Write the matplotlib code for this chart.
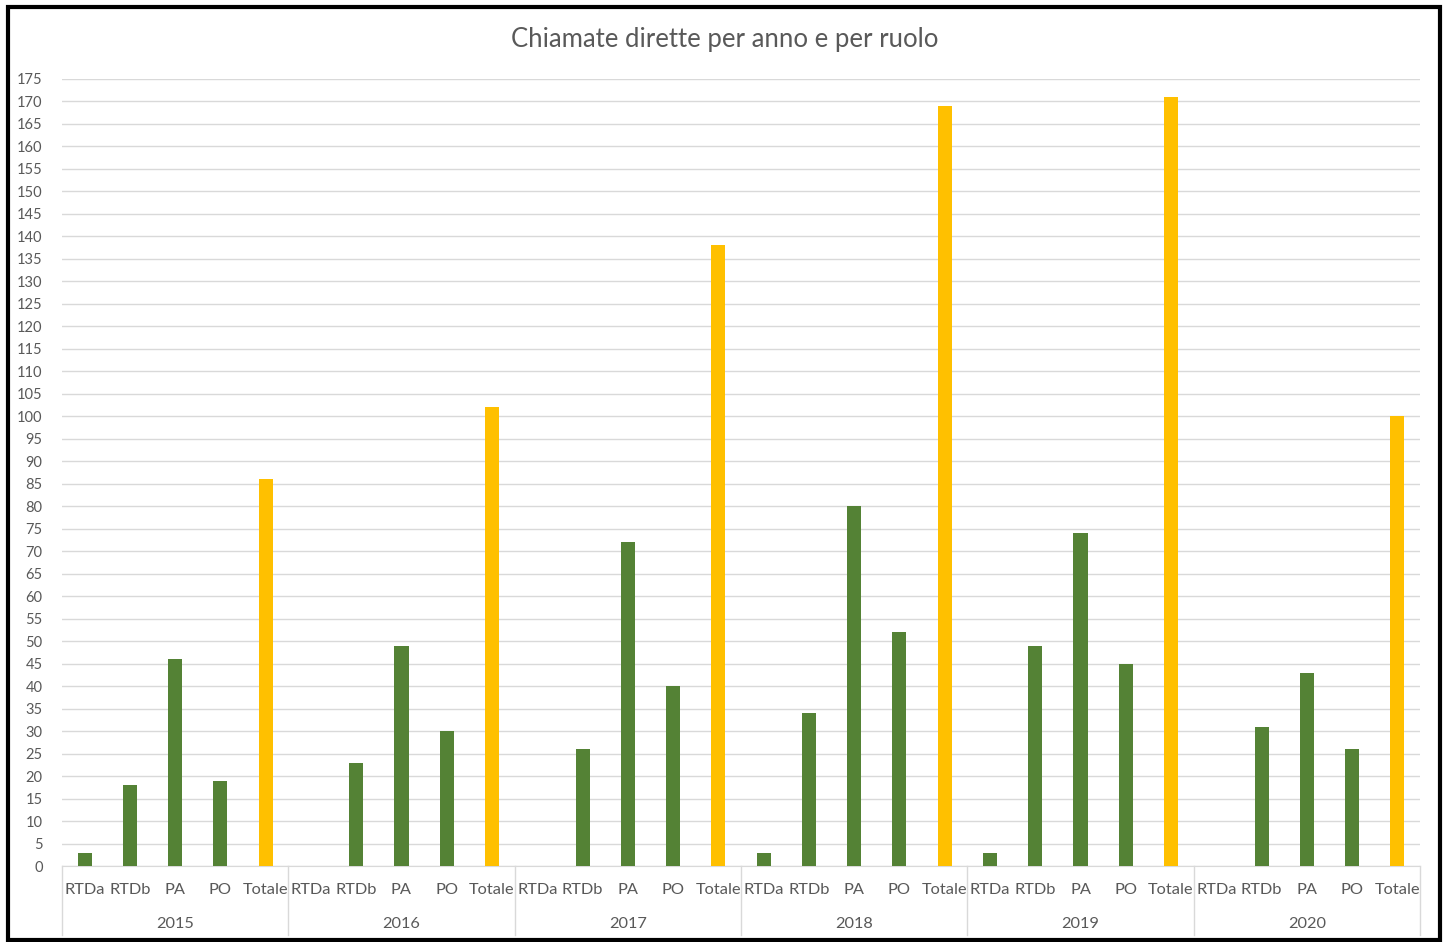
import matplotlib.pyplot as plt
from matplotlib.patches import Rectangle
import numpy as np

years = ['2015', '2016', '2017', '2018', '2019', '2020']
roles = ['RTDa', 'RTDb', 'PA', 'PO', 'Totale']
rtda = [3, 0, 0, 3, 3, 0]
rtdb = [18, 23, 26, 34, 49, 31]
pa = [46, 49, 72, 80, 74, 43]
po = [19, 30, 40, 52, 45, 26]
totale = [86, 102, 138, 169, 171, 100]

green = '#548235'
gold = '#FFC000'
grey = '#595959'

plt.rcParams['font.family'] = ['Lato', 'DejaVu Sans']

fig = plt.figure(figsize=(14.5, 9.42), dpi=100)
ax = fig.add_axes([62/1450, 1-866/942, (1420-62)/1450, (866-79)/942])

vals = []
for i in range(len(years)):
    vals += [rtda[i], rtdb[i], pa[i], po[i], totale[i]]
x = np.arange(len(vals))
colors = [gold if (k % 5) == 4 else green for k in range(len(vals))]
ax.bar(x, vals, width=0.31, color=colors, zorder=3)

ax.set_xlim(-0.5, len(vals) - 0.5)
ax.set_ylim(0, 175)
ax.set_yticks(np.arange(0, 176, 5))
ax.tick_params(axis='y', length=0, labelsize=10.5, labelcolor=grey, pad=14)
ax.set_xticks([])
ax.grid(axis='y', color='#d9d9d9', lw=1, zorder=0)
for s in ['top', 'right', 'left']:
    ax.spines[s].set_visible(False)
ax.spines['bottom'].set_color('#d9d9d9')

tr = ax.get_xaxis_transform()
for k in range(len(vals)):
    ax.text(x[k], -0.031, roles[k % 5], transform=tr, ha='center', va='center',
            fontsize=11.8, color=grey)
for i, y in enumerate(years):
    ax.text(i*5 + 2, -0.074, y, transform=tr, ha='center', va='center',
            fontsize=11.8, color=grey)
for i in range(len(years) + 1):
    ax.plot([i*5 - 0.5]*2, [0, -0.088], transform=tr, color='#d9d9d9',
            lw=1, clip_on=False)

fig.text(0.5, 1-39/942, 'Chiamate dirette per anno e per ruolo', ha='center',
         va='center', fontsize=18.5, color=grey)

fig.patches.append(Rectangle((8/1450, 2/942), 1432/1450, 933/942,
                             transform=fig.transFigure, fill=False,
                             edgecolor='black', lw=3))

fig.savefig('out.png', dpi=100)
